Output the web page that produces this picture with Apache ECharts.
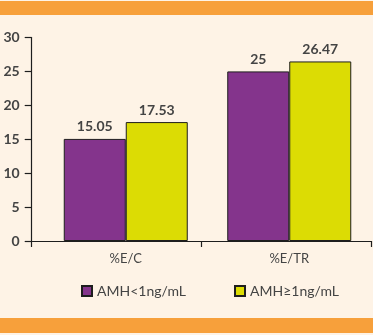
<!DOCTYPE html>
<html>
<head>
<meta charset="utf-8">
<script src="https://cdn.jsdelivr.net/npm/echarts@6/dist/echarts.min.js"></script>
<style>
  html, body { margin: 0; padding: 0; background: #fef3e6; }
  #chart { width: 373px; height: 335px; }
</style>
</head>
<body>
<div id="chart"></div>
<script>
// Datos del gráfico
const categorias = ['%E/C', '%E/TR'];
const serieNombres = ['AMH<1ng/mL', 'AMH\u22651ng/mL'];
const amhBajo = [15.05, 25];
const amhAlto = [17.53, 26.47];
const ejeY = { min: 0, max: 30, interval: 5 };

const colores = ['#84348c', '#dcdc04'];
const fuente = 'Lato, "Open Sans", sans-serif';

const chart = echarts.init(document.getElementById('chart'));

function serieBarra(nombre, datos, color) {
    return {
        name: nombre,
        type: 'bar',
        xAxisIndex: 0,
        yAxisIndex: 0,
        data: datos,
        barWidth: 62,
        barGap: '0%',
        itemStyle: { color: color, borderColor: '#1e1e1e', borderWidth: 1 },
        label: {
            show: true,
            position: 'top',
            distance: 5,
            color: '#444',
            fontFamily: fuente,
            fontWeight: 'bold',
            fontSize: 14
        }
    };
}

const option = {
    backgroundColor: '#fef3e6',
    animation: false,
    // bandas naranjas arriba y abajo
    graphic: [
        { type: 'rect', left: 0, top: 1, shape: { width: 373, height: 14 }, style: { fill: '#f7a03b' } },
        { type: 'rect', left: 0, top: 318, shape: { width: 373, height: 15 }, style: { fill: '#f7a03b' } }
    ],
    grid: [
        { left: 44, right: 2, top: 37.5, bottom: 94 },
        { left: 31.7, right: 2, top: 37.5, bottom: 94 }
    ],
    legend: {
        top: 279,
        left: 76,
        itemWidth: 10,
        itemHeight: 10,
        itemGap: 48,
        icon: 'rect',
        textStyle: { color: '#444', fontFamily: fuente, fontSize: 14 },
        data: serieNombres
    },
    xAxis: [
        {
            type: 'category',
            gridIndex: 0,
            data: categorias,
            axisLine: { show: false },
            axisTick: { show: false },
            axisLabel: { color: '#444', fontFamily: fuente, fontSize: 13, margin: 11 }
        },
        {
            type: 'category',
            gridIndex: 1,
            data: categorias,
            axisLine: { lineStyle: { color: '#1e1e1e', width: 1.2 } },
            axisTick: { show: true, length: 6, lineStyle: { color: '#1e1e1e', width: 1.2 } },
            axisLabel: { show: false }
        }
    ],
    yAxis: [
        {
            type: 'value',
            gridIndex: 0,
            min: ejeY.min,
            max: ejeY.max,
            interval: ejeY.interval,
            show: false
        },
        {
            type: 'value',
            gridIndex: 1,
            min: ejeY.min,
            max: ejeY.max,
            interval: ejeY.interval,
            axisLine: { show: true, lineStyle: { color: '#1e1e1e', width: 1.2 } },
            axisTick: { show: true, length: 7, lineStyle: { color: '#1e1e1e', width: 1.2 } },
            splitLine: { show: false },
            axisLabel: { color: '#444', fontFamily: fuente, fontWeight: 'bold', fontSize: 14, margin: 12 }
        }
    ],
    series: [
        serieBarra(serieNombres[0], amhBajo, colores[0]),
        serieBarra(serieNombres[1], amhAlto, colores[1])
    ]
};

chart.setOption(option);
</script>
</body>
</html>
